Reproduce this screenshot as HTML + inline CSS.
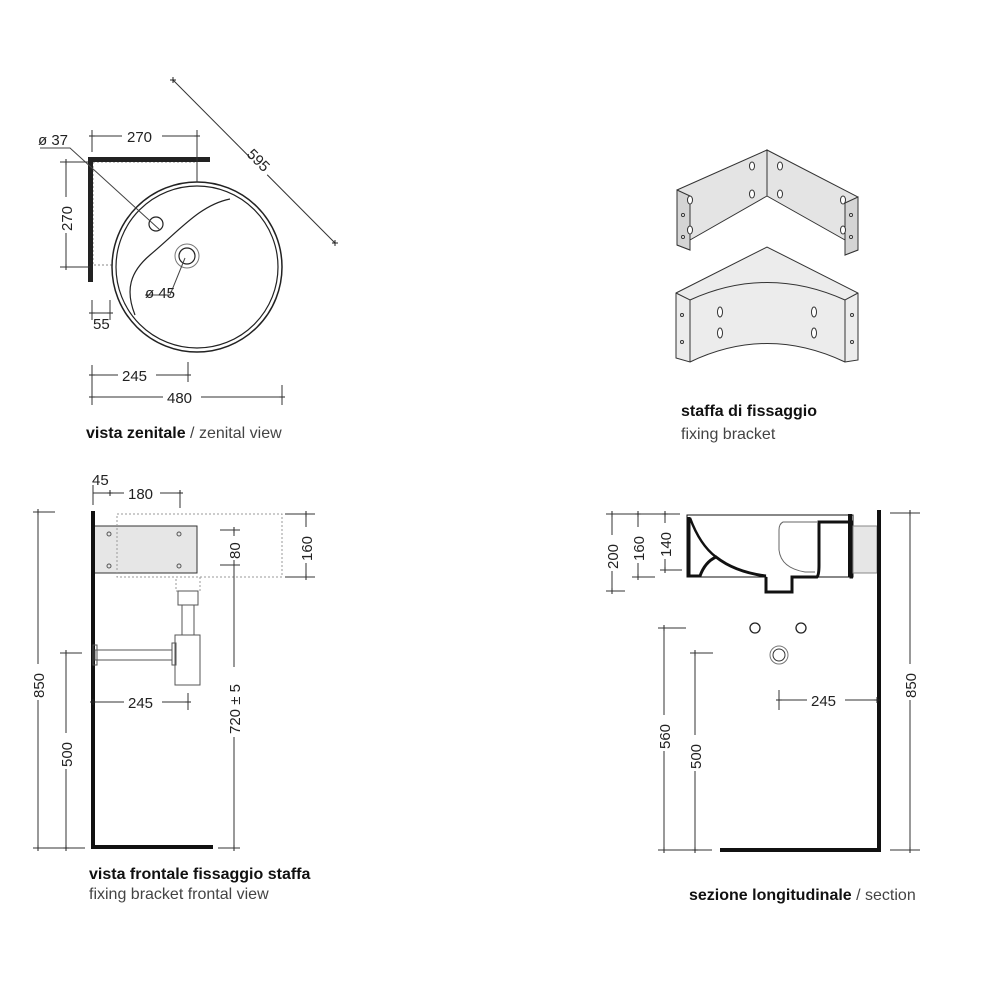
<!DOCTYPE html>
<html><head><meta charset="utf-8"><style>
html,body{margin:0;padding:0;background:#fff}
svg{display:block}
text{font-family:"Liberation Sans",sans-serif;fill:#222}
.d{font-size:15px}
.c{font-size:16px}
.b{font-weight:bold;fill:#111}
.g{fill:#444}
</style></head><body>
<svg width="1000" height="1000" viewBox="0 0 1000 1000" xmlns="http://www.w3.org/2000/svg">
<defs>
<marker id="t" viewBox="-4 -4 8 8" markerWidth="8" markerHeight="8" refX="0" refY="0" markerUnits="userSpaceOnUse">
<path d="M-3 0H3M0-3V3" stroke="#222" stroke-width="1"/></marker>
</defs>
<g stroke="#333" stroke-width="1" fill="none">
<!-- TOP VIEW -->
<rect x="93" y="162" width="104" height="103" stroke="#888" stroke-dasharray="2,2"/>
<rect x="88" y="157" width="122" height="5" fill="#222" stroke="none"/>
<rect x="88" y="157" width="5" height="125" fill="#222" stroke="none"/>
<circle cx="197" cy="267" r="85" fill="#fff" stroke="#222" stroke-width="1.5"/>
<circle cx="197" cy="267" r="81" stroke="#222" stroke-width="1.2"/>
<path d="M230 199 C 200 205, 180 230, 150 255 C 130 272, 125 290, 135 315" stroke="#222" stroke-width="1.2"/>
<circle cx="156" cy="224" r="7" stroke="#222" stroke-width="1.2"/>
<circle cx="187" cy="256" r="12" stroke="#777"/>
<circle cx="187" cy="256" r="8" stroke="#222" stroke-width="1.2"/>
<path d="M40 148 H70 L160 230" stroke="#444"/>
<path d="M185 258 L170 295 H145" stroke="#444"/>
<line x1="92" y1="136" x2="197" y2="136" marker-start="url(#t)" marker-end="url(#t)"/>
<line x1="92" y1="130" x2="92" y2="152"/><line x1="197" y1="130" x2="197" y2="182"/>
<line x1="66" y1="162" x2="66" y2="267" marker-start="url(#t)" marker-end="url(#t)"/>
<line x1="60" y1="162" x2="88" y2="162"/><line x1="60" y1="267" x2="90" y2="267"/>
<line x1="173" y1="80" x2="335" y2="243" marker-start="url(#t)" marker-end="url(#t)"/>
<line x1="92" y1="313" x2="110" y2="313" marker-start="url(#t)" marker-end="url(#t)"/>
<line x1="92" y1="300" x2="92" y2="320"/><line x1="110" y1="300" x2="110" y2="320"/>
<line x1="92" y1="375" x2="188" y2="375" marker-start="url(#t)" marker-end="url(#t)"/>
<line x1="188" y1="362" x2="188" y2="382"/>
<line x1="92" y1="397" x2="282" y2="397" marker-start="url(#t)" marker-end="url(#t)"/>
<line x1="92" y1="365" x2="92" y2="405"/><line x1="282" y1="385" x2="282" y2="405"/>

<!-- BRACKET -->
<g fill="#e4e4e4" stroke="#333">
<polygon points="677,190 767,150 767,196 690,240 690,250 677,245"/>
<polygon points="767,150 858,197 858,250 845,255 845,240 767,196"/>
<polygon points="677,190 690,196 690,250 677,245" fill="#d4d4d4"/>
<polygon points="858,197 845,203 845,255 858,250" fill="#d4d4d4"/>
<path d="M676 293 L767 247 L858 293 V360 L845 362 Q767 325 690 362 L676 358 Z" fill="#ececec"/>
<path d="M676 293 L690 300 Q767 265 845 300 L858 293" fill="none"/>
<path d="M690 300 V362 M845 300 V362"/>
</g>
<g fill="#fff" stroke="#333">
<ellipse cx="690" cy="200" rx="2.5" ry="4"/><ellipse cx="752" cy="166" rx="2.5" ry="4"/>
<ellipse cx="752" cy="194" rx="2.5" ry="4"/><ellipse cx="690" cy="230" rx="2.5" ry="4"/>
<ellipse cx="780" cy="166" rx="2.5" ry="4"/><ellipse cx="780" cy="194" rx="2.5" ry="4"/>
<ellipse cx="843" cy="200" rx="2.5" ry="4"/><ellipse cx="843" cy="230" rx="2.5" ry="4"/>
<ellipse cx="720" cy="312" rx="2.5" ry="5"/><ellipse cx="720" cy="333" rx="2.5" ry="5"/>
<ellipse cx="814" cy="312" rx="2.5" ry="5"/><ellipse cx="814" cy="333" rx="2.5" ry="5"/>
<circle cx="683" cy="215" r="1.5"/><circle cx="683" cy="237" r="1.5"/>
<circle cx="851" cy="215" r="1.5"/><circle cx="851" cy="237" r="1.5"/>
<circle cx="682" cy="315" r="1.5"/><circle cx="682" cy="342" r="1.5"/>
<circle cx="852" cy="315" r="1.5"/><circle cx="852" cy="342" r="1.5"/>
</g>

<!-- FRONT VIEW -->
<rect x="93" y="526" width="104" height="47" fill="#e6e6e6" stroke="#333"/>
<rect x="117" y="514" width="165" height="63" stroke="#999" stroke-dasharray="2,2"/>
<rect x="91" y="511" width="4" height="338" fill="#111" stroke="none"/>
<rect x="91" y="845" width="122" height="4" fill="#111" stroke="none"/>
<g stroke="#555"><circle cx="109" cy="534" r="2"/><circle cx="109" cy="566" r="2"/><circle cx="179" cy="534" r="2"/><circle cx="179" cy="566" r="2"/>
<rect x="176" y="577" width="24" height="14" stroke-dasharray="2,2" stroke="#999"/>
<rect x="178" y="591" width="20" height="14"/>
<rect x="182" y="605" width="12" height="30"/>
<rect x="175" y="635" width="25" height="50"/>
<rect x="95" y="650" width="77" height="10"/>
<rect x="93" y="645" width="4" height="20"/>
<rect x="172" y="643" width="4" height="22"/></g>
<line x1="93" y1="493" x2="110" y2="493"/>
<line x1="93" y1="485" x2="93" y2="505"/>
<line x1="110" y1="493" x2="180" y2="493" marker-start="url(#t)" marker-end="url(#t)"/>
<line x1="180" y1="493" x2="180" y2="508"/>
<line x1="38" y1="512" x2="38" y2="848" marker-start="url(#t)" marker-end="url(#t)"/>
<line x1="33" y1="512" x2="55" y2="512"/><line x1="33" y1="848" x2="85" y2="848"/>
<line x1="66" y1="653" x2="66" y2="848" marker-start="url(#t)" marker-end="url(#t)"/>
<line x1="60" y1="653" x2="82" y2="653"/>
<line x1="234" y1="530" x2="234" y2="848" marker-start="url(#t)" marker-end="url(#t)"/>
<line x1="220" y1="530" x2="240" y2="530"/><line x1="220" y1="565" x2="240" y2="565"/><line x1="218" y1="848" x2="240" y2="848"/>
<line x1="306" y1="514" x2="306" y2="577" marker-start="url(#t)" marker-end="url(#t)"/>
<line x1="285" y1="514" x2="315" y2="514"/><line x1="285" y1="577" x2="315" y2="577"/>
<line x1="93" y1="702" x2="188" y2="702" marker-start="url(#t)" marker-end="url(#t)"/>
<line x1="188" y1="693" x2="188" y2="710"/>

<!-- SECTION -->
<path d="M687 515 H853 V577 H792 V592 H766 V577 H687 Z" fill="#fff" stroke="#111"/>
<path d="M689 517 L689 576 H700 Q705 562 716 557 Q735 572 766 576" stroke="#111" stroke-width="3"/>
<path d="M690 518 Q700 545 716 557" stroke="#111" stroke-width="2.5"/>
<path d="M766 577 V592 H792 V577 H817 Q819 575 819 565 V522 H851 V577 H853" stroke="#111" stroke-width="3"/>
<path d="M850 514 V577" stroke="#111" stroke-width="4"/>
<path d="M817 522 H783 Q779 524 779 530 V550 Q781 568 805 572 H815" stroke="#666"/>
<rect x="853" y="526" width="24" height="47" fill="#e6e6e6" stroke="#888"/>
<rect x="877" y="510" width="4" height="342" fill="#111" stroke="none"/>
<rect x="720" y="848" width="161" height="4" fill="#111" stroke="none"/>
<circle cx="755" cy="628" r="5" stroke="#222" stroke-width="1.3"/>
<circle cx="801" cy="628" r="5" stroke="#222" stroke-width="1.3"/>
<circle cx="779" cy="655" r="9" stroke="#777"/>
<circle cx="779" cy="655" r="6" stroke="#333"/>
<line x1="612" y1="514" x2="612" y2="591" marker-start="url(#t)" marker-end="url(#t)"/>
<line x1="606" y1="514" x2="680" y2="514"/><line x1="606" y1="591" x2="625" y2="591"/>
<line x1="638" y1="514" x2="638" y2="577" marker-start="url(#t)" marker-end="url(#t)"/>
<line x1="632" y1="577" x2="655" y2="577"/>
<line x1="665" y1="514" x2="665" y2="570" marker-start="url(#t)" marker-end="url(#t)"/>
<line x1="660" y1="570" x2="682" y2="570"/>
<line x1="910" y1="513" x2="910" y2="850" marker-start="url(#t)" marker-end="url(#t)"/>
<line x1="890" y1="513" x2="920" y2="513"/><line x1="890" y1="850" x2="920" y2="850"/>
<line x1="664" y1="628" x2="664" y2="850" marker-start="url(#t)" marker-end="url(#t)"/>
<line x1="658" y1="628" x2="686" y2="628"/><line x1="658" y1="850" x2="712" y2="850"/>
<line x1="695" y1="653" x2="695" y2="850" marker-start="url(#t)" marker-end="url(#t)"/>
<line x1="690" y1="653" x2="713" y2="653"/>
<line x1="779" y1="700" x2="877" y2="700" marker-start="url(#t)" marker-end="url(#t)"/>
<line x1="779" y1="690" x2="779" y2="710"/>
</g>

<g class="d">
<rect x="122" y="128" width="40" height="16" fill="#fff"/>
<text x="127" y="142">270</text>
<text x="38" y="145">ø 37</text>
<rect x="248" y="148" width="24" height="34" fill="#fff" transform="rotate(45 260 165)"/>
<text transform="translate(246,155) rotate(45)">595</text>
<rect x="57" y="197" width="18" height="36" fill="#fff"/>
<text transform="translate(72,231) rotate(-90)">270</text>
<text x="145" y="298">ø 45</text>
<text x="93" y="329">55</text>
<rect x="118" y="367" width="38" height="16" fill="#fff"/>
<text x="122" y="381">245</text>
<rect x="163" y="389" width="38" height="16" fill="#fff"/>
<text x="167" y="403">480</text>

<text x="92" y="485">45</text>
<rect x="124" y="485" width="36" height="16" fill="#fff"/>
<text x="128" y="499">180</text>
<rect x="29" y="664" width="18" height="36" fill="#fff"/>
<text transform="translate(44,698) rotate(-90)">850</text>
<rect x="57" y="733" width="18" height="36" fill="#fff"/>
<text transform="translate(72,767) rotate(-90)">500</text>
<rect x="225" y="536" width="18" height="24" fill="#fff"/>
<text transform="translate(240,559) rotate(-90)">80</text>
<rect x="225" y="667" width="18" height="70" fill="#fff"/>
<text transform="translate(240,734) rotate(-90)">720 ± 5</text>
<rect x="297" y="527" width="18" height="36" fill="#fff"/>
<text transform="translate(312,561) rotate(-90)">160</text>
<rect x="124" y="694" width="38" height="16" fill="#fff"/>
<text x="128" y="708">245</text>

<rect x="603" y="535" width="18" height="36" fill="#fff"/>
<text transform="translate(618,569) rotate(-90)">200</text>
<rect x="629" y="527" width="18" height="36" fill="#fff"/>
<text transform="translate(644,561) rotate(-90)">160</text>
<rect x="656" y="523" width="18" height="36" fill="#fff"/>
<text transform="translate(671,557) rotate(-90)">140</text>
<rect x="901" y="664" width="18" height="36" fill="#fff"/>
<text transform="translate(916,698) rotate(-90)">850</text>
<rect x="655" y="715" width="18" height="36" fill="#fff"/>
<text transform="translate(670,749) rotate(-90)">560</text>
<rect x="686" y="735" width="18" height="36" fill="#fff"/>
<text transform="translate(701,769) rotate(-90)">500</text>
<rect x="807" y="692" width="38" height="16" fill="#fff"/>
<text x="811" y="706">245</text>
</g>

<g class="c">
<text x="86" y="438"><tspan class="b">vista zenitale</tspan><tspan class="g"> / zenital view</tspan></text>
<text x="681" y="416" class="b">staffa di fissaggio</text>
<text x="681" y="439" class="g">fixing bracket</text>
<text x="89" y="879" class="b">vista frontale fissaggio staffa</text>
<text x="89" y="899" class="g">fixing bracket frontal view</text>
<text x="689" y="900"><tspan class="b">sezione longitudinale</tspan><tspan class="g"> / section</tspan></text>
</g>
</svg>
</body></html>
